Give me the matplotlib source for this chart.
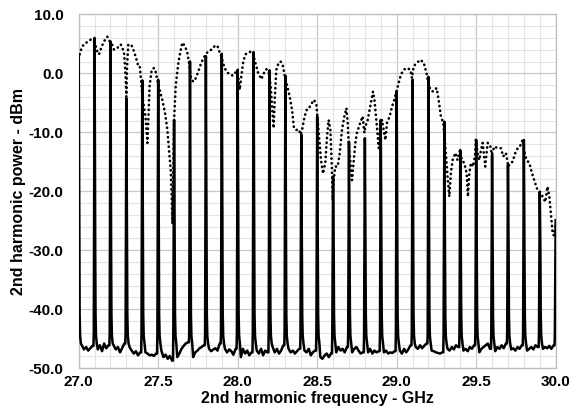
import numpy as np
import matplotlib
matplotlib.use("Agg")
import matplotlib.pyplot as plt
from matplotlib.ticker import MultipleLocator, FormatStrFormatter

plt.rcParams['font.family'] = ['Liberation Sans', 'DejaVu Sans']
plt.rcParams['font.weight'] = 'bold'

# spike positions (GHz) and their peak levels (dBm)
spike_freq = [27.0, 27.1, 27.2, 27.3, 27.4, 27.5, 27.6, 27.7, 27.8, 27.9,
              28.0, 28.1, 28.2, 28.3, 28.4, 28.5, 28.6, 28.7, 28.8, 28.9,
              29.0, 29.1, 29.2, 29.3, 29.4, 29.5, 29.6, 29.7, 29.8, 29.9, 30.0]
spike_peak = [3.2, 6.0, 5.4, -4.2, -1.2, -1.1, -7.9, 2.0, 2.9, 3.3,
              0.6, 3.6, 0.5, -0.4, -10.4, -7.3, -17.5, -11.6, -11.0, -7.9,
              -3.1, -1.1, -0.6, -8.2, -13.0, -11.3, -13.8, -15.5, -11.3, -20.1, -24.9]

# noise floor readings between neighbouring spikes (dBm)
floor_db = [
    [-46.1, -46.8, -46.4, -47.0, -46.6, -46.2],
    [-46.8, -46.1, -47.1, -45.8, -46.6, -46.1],
    [-46.1, -46.8, -46.4, -47.3, -46.6, -45.8],
    [-46.4, -47.0, -47.5, -47.1, -47.8, -47.3],
    [-47.3, -47.5, -47.8, -47.7, -47.9, -47.5],
    [-47.0, -48.1, -47.7, -48.4, -47.9, -48.7],
    [-48.1, -47.5, -46.7, -46.2, -45.8, -45.6],
    [-48.1, -47.3, -47.0, -46.6, -46.4, -46.1],
    [-46.7, -47.1, -46.8, -46.6, -47.0, -45.8],
    [-46.7, -47.3, -46.8, -47.1, -47.7, -46.7],
    [-48.1, -46.7, -47.5, -47.0, -47.8, -47.3],
    [-47.0, -47.5, -46.7, -47.8, -47.0, -47.3],
    [-46.4, -47.3, -46.7, -47.5, -47.0, -46.1],
    [-46.7, -47.3, -47.0, -47.5, -47.1, -46.7],
    [-47.0, -47.3, -46.7, -47.8, -47.3, -47.0],
    [-48.1, -48.4, -47.8, -47.5, -48.1, -47.5],
    [-47.3, -46.4, -47.0, -46.7, -47.3, -46.4],
    [-47.3, -46.7, -46.4, -47.0, -47.5, -47.3],
    [-47.3, -46.7, -47.5, -47.0, -47.3, -47.1],
    [-47.3, -47.0, -47.5, -47.3, -47.4, -47.1],
    [-47.0, -47.5, -46.7, -47.3, -46.8, -46.1],
    [-46.4, -46.7, -46.1, -46.6, -46.2, -45.8],
    [-47.0, -47.1, -47.3, -47.4, -47.5, -47.3],
    [-46.7, -47.0, -46.4, -46.8, -46.1, -46.4],
    [-47.0, -46.7, -47.1, -46.4, -46.7, -46.1],
    [-47.3, -46.7, -46.4, -46.1, -45.8, -46.7],
    [-47.1, -46.4, -46.7, -46.1, -46.6, -45.8],
    [-46.8, -46.6, -47.0, -46.4, -46.7, -46.1],
    [-47.0, -46.7, -46.4, -46.8, -46.1, -46.4],
    [-46.7, -46.4, -46.6, -46.2, -46.7, -46.1],
]
# decay right after each spike (dBm)
tail_db = [-30.0, -41.0, -44.5, -45.8]

# dotted trace (GHz, dBm)
env_freq = [27.006, 27.019, 27.034, 27.055, 27.075, 27.090, 27.103, 27.117, 27.128, 27.145,
            27.166, 27.180, 27.197, 27.210, 27.222, 27.243, 27.264, 27.275, 27.285, 27.290,
            27.296, 27.300, 27.304, 27.312, 27.333, 27.348, 27.363, 27.375, 27.384, 27.392,
            27.400, 27.410, 27.420, 27.432, 27.438, 27.446, 27.459, 27.474, 27.484, 27.494,
            27.509, 27.526, 27.543, 27.558, 27.568, 27.579, 27.585, 27.589, 27.593, 27.600,
            27.610, 27.627, 27.642, 27.652, 27.669, 27.683, 27.694, 27.704, 27.719, 27.730,
            27.750, 27.771, 27.792, 27.813, 27.834, 27.855, 27.872, 27.887, 27.897, 27.914,
            27.929, 27.950, 27.971, 27.985, 27.996, 28.006, 28.013, 28.023, 28.034, 28.048,
            28.065, 28.086, 28.096, 28.111, 28.128, 28.149, 28.166, 28.180, 28.195, 28.208,
            28.216, 28.226, 28.233, 28.243, 28.258, 28.270, 28.285, 28.296, 28.312, 28.327,
            28.342, 28.354, 28.369, 28.384, 28.396, 28.405, 28.421, 28.438, 28.453, 28.468,
            28.480, 28.495, 28.503, 28.514, 28.524, 28.537, 28.551, 28.562, 28.572, 28.583,
            28.593, 28.597, 28.604, 28.614, 28.629, 28.642, 28.656, 28.671, 28.684, 28.692,
            28.698, 28.709, 28.719, 28.730, 28.740, 28.750, 28.771, 28.786, 28.797, 28.803,
            28.818, 28.834, 28.851, 28.860, 28.872, 28.887, 28.897, 28.908, 28.918, 28.929,
            28.939, 28.956, 28.971, 28.985, 28.998, 29.013, 29.027, 29.044, 29.065, 29.086,
            29.096, 29.107, 29.128, 29.149, 29.170, 29.187, 29.197, 29.212, 29.229, 29.240,
            29.251, 29.264, 29.278, 29.293, 29.306, 29.320, 29.331, 29.341, 29.352, 29.369,
            29.383, 29.398, 29.410, 29.425, 29.440, 29.448, 29.457, 29.467, 29.482, 29.494,
            29.498, 29.509, 29.520, 29.530, 29.541, 29.557, 29.572, 29.587, 29.599, 29.614,
            29.635, 29.656, 29.670, 29.687, 29.702, 29.714, 29.729, 29.746, 29.761, 29.775,
            29.792, 29.803, 29.817, 29.834, 29.851, 29.872, 29.886, 29.901, 29.918, 29.935,
            29.949, 29.960, 29.970, 29.981, 29.990, 30.000]
env_db = [3.2, 4.3, 5.0, 5.3, 5.7, 5.6, 5.0, 3.7, 3.2, 4.6,
          5.7, 6.2, 5.3, 4.9, 4.0, 4.3, 4.9, 4.3, 3.5, 1.8,
          -1.0, -4.0, 1.0, 4.9, 4.7, 3.7, 2.4, 1.2, 1.2, -1.1,
          -3.6, -5.6, -7.3, -11.8, -7.9, -2.2, 0.6, 0.9, 0.3, -1.1,
          -2.8, -4.5, -6.7, -9.6, -13.0, -16.4, -20.9, -25.5, -19.2, -7.9,
          -2.2, 1.8, 4.0, 5.2, 4.6, 3.5, 1.8, -0.5, -1.4, -1.2,
          0.1, 1.8, 2.9, 3.7, 4.0, 4.6, 4.7, 3.5, 2.9, 1.2,
          0.3, -0.2, -0.4, 0.1, 0.3, -1.1, -2.8, -0.5, 1.8, 3.2,
          3.5, 3.7, 3.5, 1.8, 0.1, -1.0, 0.1, 0.7, 0.1, -2.2,
          -5.6, -9.3, -4.5, 0.6, 1.8, 2.0, 1.2, -0.5, -2.2, -3.9,
          -6.2, -9.3, -9.6, -9.5, -10.4, -9.6, -7.3, -5.9, -5.7, -5.0,
          -4.5, -5.3, -7.9, -11.3, -14.7, -17.0, -15.2, -10.7, -7.9, -9.6,
          -16.4, -21.5, -18.1, -15.8, -15.8, -13.5, -9.6, -7.3, -5.9, -8.4,
          -11.8, -15.2, -18.1, -14.7, -11.8, -10.1, -8.4, -7.3, -10.1, -9.0,
          -7.9, -5.6, -3.1, -4.5, -7.9, -12.7, -9.0, -7.9, -9.6, -11.3,
          -8.4, -7.3, -5.6, -4.5, -3.1, -1.6, -0.2, 0.6, 0.9, 0.6,
          -0.8, 1.2, 1.8, 2.3, 1.8, 0.1, -1.4, -2.8, -3.1, -2.8,
          -2.5, -4.5, -7.3, -8.4, -12.4, -17.5, -20.9, -16.9, -14.7, -13.5,
          -14.7, -13.0, -14.7, -15.2, -16.9, -20.9, -16.9, -15.2, -15.8, -13.5,
          -11.3, -13.5, -14.7, -13.0, -11.8, -15.8, -11.8, -12.1, -13.8, -12.4,
          -12.7, -12.7, -14.1, -13.5, -15.8, -15.2, -15.0, -13.5, -12.7, -12.4,
          -11.3, -13.3, -14.7, -15.2, -16.9, -18.7, -19.8, -20.1, -20.9, -21.8,
          -19.2, -20.9, -23.8, -27.2, -27.5, -25.5]


def spike_trace():
    xs, ys = [], []
    tail_dx = [0.004, 0.006, 0.009, 0.014]
    floor_dx = [0.02, 0.033, 0.047, 0.06, 0.073, 0.087]
    for i, f in enumerate(spike_freq):
        if i > 0:
            xs += [f - 0.007, f - 0.005]
            ys += [floor_db[i - 1][-1], -44.0]
        xs.append(f)
        ys.append(spike_peak[i])
        if i == len(spike_freq) - 1:
            break
        for dx, v in zip(tail_dx, tail_db):
            xs.append(f + dx)
            ys.append(v)
        for dx, v in zip(floor_dx, floor_db[i]):
            xs.append(f + dx)
            ys.append(v)
    return xs, ys


fig = plt.figure(figsize=(5.79, 4.17), dpi=100)
ax = fig.add_axes([0.1359, 0.1168, 0.8238, 0.8489])

sx, sy = spike_trace()
ax.plot(sx, sy, color='black', lw=1.8, solid_joinstyle='round', zorder=3)
ax.plot(env_freq, env_db, color='black', lw=1.9, linestyle=(0, (0.1, 1.7)),
        dash_capstyle='round', zorder=4)

ax.set_xlim(27.0, 30.0)
ax.set_ylim(-50, 10)
ax.xaxis.set_major_locator(MultipleLocator(0.5))
ax.xaxis.set_minor_locator(MultipleLocator(0.1))
ax.yaxis.set_major_locator(MultipleLocator(10))
ax.yaxis.set_minor_locator(MultipleLocator(2))
ax.xaxis.set_major_formatter(FormatStrFormatter('%.1f'))
ax.yaxis.set_major_formatter(FormatStrFormatter('%.1f'))
ax.grid(which='minor', color='#e3e3e3', lw=0.8)
ax.grid(which='major', color='#c8c8c8', lw=0.9)
ax.set_axisbelow(True)
ax.tick_params(which='both', length=0, labelsize=11)
ax.tick_params(axis='x', pad=5)
ax.tick_params(axis='y', pad=11)
for s in ax.spines.values():
    s.set_color('#bfbfbf')
    s.set_linewidth(0.9)

ax.set_xlabel('2nd harmonic frequency - GHz', fontsize=11.5, fontweight='bold', labelpad=1)
ax.set_ylabel('2nd harmonic power - dBm', fontsize=11.5, fontweight='bold', labelpad=2)

fig.savefig('out.png', dpi=100)
